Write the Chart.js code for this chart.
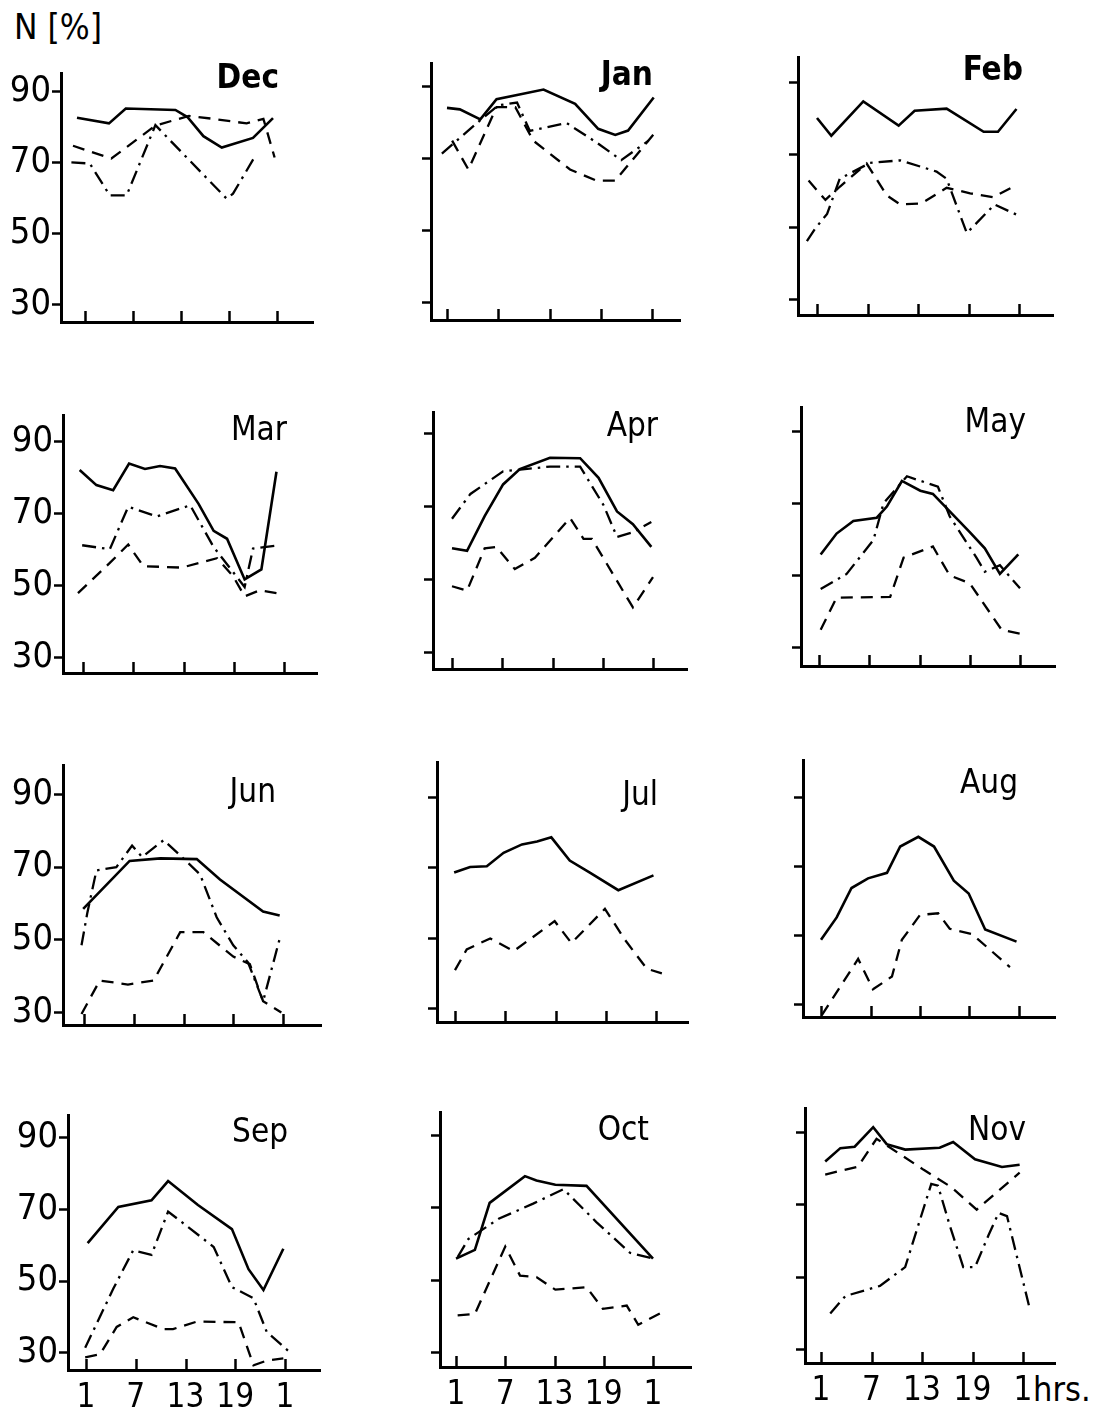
<!DOCTYPE html>
<html>
<head>
<meta charset="utf-8">
<script src="https://cdn.jsdelivr.net/npm/chart.js@4.4.1/dist/chart.umd.min.js"></script>
<style>
  html, body { margin: 0; padding: 0; background: #fff; }
  body { width: 1095px; height: 1417px; position: relative; overflow: hidden;
         font-family: "DejaVu Sans Condensed", "Liberation Sans Narrow", "DejaVu Sans", sans-serif; }
  canvas { position: absolute; }
  .lbl { position: absolute; color: #000; font-size: 34px; line-height: 1; white-space: nowrap; }
</style>
</head>
<body>
<div class="lbl" style="left:14px; top:10px; font-size:35px;">N [%]</div>
<div class="lbl" style="left:1033px; top:1372px;">hrs.</div>
<script>
// ---------- axis ticks ----------
const hourTicks = [1, 7, 13, 19, 25];
const hourLabels = ['1', '7', '13', '19', '1'];
const pctTicks = [30, 50, 70, 90];
const pctLabels = ['30', '50', '70', '90'];
const monthNames = ['Dec', 'Jan', 'Feb', 'Mar', 'Apr', 'May', 'Jun', 'Jul', 'Aug', 'Sep', 'Oct', 'Nov'];

// ---------- data: [hour, N %] ----------
const decSolid = [[0.0,82.7],[4.0,81.1],[6.1,85.3],[12.3,84.9],[13.8,82.9],[15.8,77.5],[18.1,74.3],[22.0,77.0],[24.5,82.6]];
const decDash = [[-0.5,74.8],[4.3,71.2],[9.8,80.5],[14.0,83.2],[17.0,82.4],[21.2,81.1],[23.3,82.4],[24.7,71.5]];
const decDashDot = [[-0.7,70.1],[1.6,69.8],[4.1,60.8],[6.2,60.8],[9.8,80.6],[18.7,59.9],[19.5,61.3],[22.3,72.0]];

const janSolid = [[1.0,84.1],[2.5,83.7],[4.9,80.9],[6.8,86.5],[9.2,87.7],[12.3,89.2],[16.0,85.2],[18.7,78.3],[20.7,76.6],[22.2,77.8],[25.2,87.0]];
const janDash = [[1.6,75.0],[3.5,67.0],[6.8,84.3],[9.0,84.3],[11.1,75.0],[15.4,67.0],[18.5,63.9],[20.7,63.9],[25.2,76.8]];
const janDashDot = [[0.4,71.4],[4.9,80.7],[7.0,84.8],[9.2,85.6],[10.7,77.7],[15.0,79.9],[18.5,74.5],[21.4,69.6],[24.6,75.0]];

const febSolid = [[1.0,80.2],[2.7,75.3],[6.5,84.8],[10.7,78.1],[12.6,82.2],[16.4,82.8],[20.8,76.4],[22.5,76.4],[24.7,82.7]];
const febDash = [[0.0,62.9],[1.8,58.1],[2.0,57.6],[3.7,61.2],[6.9,67.6],[9.3,58.8],[10.9,56.3],[13.4,56.6],[16.4,60.9],[19.2,59.4],[21.9,58.3],[24.3,61.2]];
const febDashDot = [[-0.2,46.2],[0.8,49.7],[2.2,53.7],[3.7,63.4],[7.3,67.8],[10.9,68.5],[15.2,65.4],[16.4,63.4],[18.8,48.4],[22.1,56.3],[24.7,53.5]];

const marSolid = [[0.6,82.1],[2.6,77.9],[4.6,76.5],[6.5,83.9],[8.4,82.4],[10.2,83.2],[12.0,82.5],[14.8,72.7],[16.6,65.2],[18.2,63.0],[20.3,51.7],[22.3,54.5],[24.1,81.6]];
const marDash = [[0.4,47.9],[4.2,56.3],[6.4,61.4],[8.2,55.4],[12.8,55.0],[17.0,57.6],[18.9,52.7],[20.3,47.0],[22.1,48.7],[24.1,47.9]];
const marDashDot = [[0.9,61.2],[4.2,60.1],[6.4,71.9],[9.8,69.2],[13.8,72.3],[16.6,60.7],[20.3,49.6],[21.3,60.3],[24.5,61.2]];

const aprSolid = [[1.0,58.6],[2.8,57.9],[4.9,67.4],[7.1,76.1],[9.1,80.3],[12.7,83.4],[16.3,83.3],[18.5,77.9],[20.7,68.7],[22.6,65.2],[24.8,59.0]];
const aprDash = [[1.0,48.2],[2.8,47.0],[4.9,58.6],[6.3,59.0],[8.5,52.9],[10.9,56.0],[15.1,66.9],[16.7,61.2],[17.7,61.2],[22.6,42.4],[25.0,50.7]];
const aprDashDot = [[1.0,66.7],[3.2,73.5],[7.1,79.7],[12.7,81.0],[16.3,81.0],[19.1,70.4],[20.7,61.7],[22.6,63.0],[24.8,65.8]];

const maySolid = [[1.2,55.9],[3.1,61.7],[5.1,65.2],[7.9,66.1],[9.1,69.2],[10.9,76.3],[13.1,73.6],[14.6,72.7],[19.0,62.1],[20.8,57.6],[22.6,50.5],[24.8,55.9]];
const mayDash = [[1.2,35.0],[3.1,43.9],[9.5,44.1],[11.1,55.0],[14.6,58.1],[16.6,50.1],[19.0,47.9],[22.8,35.0],[25.4,33.7]];
const mayDashDot = [[1.2,46.3],[4.3,50.5],[7.5,59.9],[8.7,70.1],[11.5,77.6],[15.2,74.7],[16.6,66.5],[19.8,55.0],[20.8,51.1],[22.6,52.9],[25.0,46.5]];

const junSolid = [[0.9,58.5],[6.5,71.7],[10.2,72.4],[14.6,72.2],[17.4,66.6],[22.6,57.8],[24.6,56.7]];
const junDash = [[0.7,29.6],[2.9,38.8],[6.3,37.7],[9.4,38.8],[12.6,52.1],[15.4,52.1],[19.0,45.4],[21.0,43.3],[22.6,33.1],[24.8,30.0]];
const junDashDot = [[0.7,48.5],[1.4,57.4],[2.5,69.1],[4.9,70.0],[6.8,75.9],[8.0,72.8],[10.6,77.4],[12.8,72.8],[15.0,68.0],[17.0,56.2],[19.0,48.5],[20.8,43.7],[22.6,33.1],[24.6,50.3]];

const julSolid = [[0.9,68.6],[2.8,70.2],[4.8,70.4],[6.8,74.2],[9.0,76.6],[10.8,77.4],[12.5,78.6],[14.7,72.0],[17.1,68.6],[20.5,63.6],[24.7,67.8]];
const julDash = [[1.0,40.9],[2.4,46.8],[5.2,49.9],[8.0,46.3],[12.9,54.8],[14.9,48.6],[18.9,58.3],[21.3,49.5],[23.9,41.3],[25.7,40.0]];

const augSolid = [[1.0,48.7],[2.9,55.2],[4.7,63.7],[6.7,66.5],[9.0,68.1],[10.6,75.7],[12.8,78.5],[14.7,75.7],[17.1,65.8],[18.9,62.1],[20.9,51.7],[24.7,48.2]];
const augDash = [[1.1,26.9],[5.5,43.2],[7.3,34.4],[9.6,38.1],[10.8,48.7],[13.0,55.9],[15.2,56.4],[16.6,51.9],[19.3,50.4],[23.9,40.8]];

const sepSolid = [[1.2,60.6],[4.9,70.7],[8.9,72.5],[10.9,77.9],[14.5,71.2],[18.6,64.5],[20.6,53.3],[22.4,47.5],[24.8,59.0]];
const sepDash = [[0.9,28.7],[2.7,29.6],[4.7,37.2],[6.7,39.9],[10.3,36.6],[11.5,36.6],[14.4,38.7],[19.4,38.5],[21.2,26.5],[22.8,27.8],[24.8,28.4]];
const sepDashDot = [[0.9,31.4],[4.3,47.9],[6.7,58.6],[8.9,57.3],[10.9,69.4],[16.4,59.5],[18.6,48.3],[21.2,45.2],[22.8,35.8],[25.4,30.5]];

const octSolid = [[1.0,56.0],[3.3,58.4],[5.1,71.4],[9.4,78.8],[10.8,77.6],[13.1,76.4],[16.9,76.1],[25.0,56.0]];
const octDash = [[1.2,40.3],[3.3,40.7],[7.0,59.3],[8.8,51.3],[10.8,50.9],[13.1,47.4],[16.9,48.1],[18.9,42.1],[21.8,43.0],[23.2,37.7],[26.0,41.0]];
const octDashDot = [[1.2,56.4],[2.5,61.4],[6.2,67.0],[10.4,71.2],[14.1,75.2],[18.1,66.1],[22.2,57.6],[25.0,56.0]];

const novSolid = [[1.5,82.0],[3.3,85.7],[5.0,86.1],[7.2,91.5],[8.8,86.8],[11.0,85.3],[15.1,85.8],[16.7,87.4],[19.3,82.6],[22.5,80.5],[24.6,81.1]];
const novDash = [[1.5,78.4],[5.4,80.6],[7.6,88.3],[13.2,79.7],[16.5,74.9],[19.5,68.7],[24.6,78.9]];
const novDashDot = [[2.1,40.0],[3.9,44.8],[8.0,47.6],[11.0,52.8],[12.6,64.7],[14.1,75.8],[14.9,75.3],[16.3,64.3],[17.9,52.8],[19.3,52.8],[20.9,61.6],[22.1,67.8],[23.1,66.9],[25.8,41.3]];

const solidSeries = [decSolid, janSolid, febSolid, marSolid, aprSolid, maySolid, junSolid, julSolid, augSolid, sepSolid, octSolid, novSolid];
const dashSeries = [decDash, janDash, febDash, marDash, aprDash, mayDash, junDash, julDash, augDash, sepDash, octDash, novDash];
const dashDotSeries = [decDashDot, janDashDot, febDashDot, marDashDot, aprDashDot, mayDashDot, junDashDot, null, null, sepDashDot, octDashDot, novDashDot];

// ---------- layout (pixel geometry of each panel) ----------
// L,R,T,B: plot frame; t1,t25: pixel of hour 1 and hour 25; y90,y30: pixel of 90 % and 30 %; tx,ty: title right/baseline
const panelLayout = [
  {L:61,  R:313,  T:63,   B:322,  t1:85,  t25:277,  y90:82,   y30:304,  tx:279,  ty:88,   bold:true,  col:0, row:0},
  {L:431, R:680,  T:53,   B:320,  t1:447, t25:652,  y90:77,   y30:302,  tx:653,  ty:85,   bold:true,  col:1, row:0},
  {L:798, R:1053, T:47,   B:315,  t1:817, t25:1019, y90:73,   y30:299,  tx:1023, ty:80,   bold:true,  col:2, row:0},
  {L:63,  R:317,  T:405,  B:673,  t1:83,  t25:284,  y90:432,  y30:657,  tx:287,  ty:440,  bold:false, col:0, row:1},
  {L:433, R:687,  T:402,  B:669,  t1:452, t25:653,  y90:424,  y30:652,  tx:658,  ty:436,  bold:false, col:1, row:1},
  {L:801, R:1055, T:397,  B:666,  t1:819, t25:1020, y90:422,  y30:647,  tx:1026, ty:432,  bold:false, col:2, row:1},
  {L:63,  R:321,  T:755,  B:1025, t1:84,  t25:283,  y90:785,  y30:1012, tx:276,  ty:802,  bold:false, col:0, row:2},
  {L:437, R:688,  T:752,  B:1022, t1:455, t25:656,  y90:788,  y30:1008, tx:658,  ty:805,  bold:false, col:1, row:2},
  {L:803, R:1055, T:750,  B:1017, t1:821, t25:1019, y90:788,  y30:1004, tx:1018, ty:793,  bold:false, col:2, row:2},
  {L:68,  R:320,  T:1105, B:1370, t1:86,  t25:285,  y90:1128, y30:1352, tx:288,  ty:1142, bold:false, col:0, row:3},
  {L:440, R:691,  T:1102, B:1367, t1:456, t25:653,  y90:1126, y30:1352, tx:649,  ty:1140, bold:false, col:1, row:3},
  {L:805, R:1055, T:1098, B:1363, t1:821, t25:1023, y90:1123, y30:1349, tx:1026, ty:1140, bold:false, col:2, row:3}
];

const FONT = '"DejaVu Sans Condensed", "Liberation Sans Narrow", "DejaVu Sans", sans-serif';
const PADL = 62, PADT = 12, PADR = 14, PADB = 52;

const panelDecor = {
  id: 'panelDecor',
  afterDraw(chart, args, opts) {
    const {ctx, chartArea, scales} = chart;
    const x = scales.x;
    ctx.save();
    ctx.strokeStyle = '#000';
    ctx.lineWidth = 2.5;
    hourTicks.forEach(h => {
      const px = Math.round(x.getPixelForValue(h)) + 0.5;
      ctx.beginPath();
      ctx.moveTo(px, chartArea.bottom);
      ctx.lineTo(px, chartArea.bottom - 11);
      ctx.stroke();
    });
    ctx.fillStyle = '#000';
    ctx.font = (opts.bold ? 'bold ' : '') + '33px ' + FONT;
    ctx.textAlign = 'right';
    ctx.textBaseline = 'alphabetic';
    ctx.fillText(opts.title, opts.tx, opts.ty);
    ctx.restore();
  }
};

function toXY(arr) { return arr.map(p => ({x: p[0], y: p[1]})); }

panelLayout.forEach((g, i) => {
  const cv = document.createElement('canvas');
  const cl = g.L - PADL, ct = g.T - PADT;
  const cw = g.R - g.L + PADL + PADR, ch = g.B - g.T + PADT + PADB;
  cv.width = cw; cv.height = ch;
  cv.style.left = cl + 'px'; cv.style.top = ct + 'px';
  cv.style.width = cw + 'px'; cv.style.height = ch + 'px';
  document.body.appendChild(cv);

  const ppx = (g.t25 - g.t1) / 24;
  const xMin = 1 - (g.t1 - g.L) / ppx;
  const xMax = 25 + (g.R - g.t25) / ppx;
  const ppu = (g.y30 - g.y90) / 60;
  const yMin = 30 - (g.B - g.y30) / ppu;
  const yMax = 90 + (g.y90 - g.T) / ppu;

  const datasets = [{
    data: toXY(solidSeries[i]), borderColor: '#000', borderWidth: 2.6, borderDash: []
  }, {
    data: toXY(dashSeries[i]), borderColor: '#000', borderWidth: 2.3, borderDash: [12, 8]
  }];
  if (dashDotSeries[i]) {
    datasets.push({ data: toXY(dashDotSeries[i]), borderColor: '#000', borderWidth: 2.3, borderDash: [14, 6, 2.5, 6] });
  }
  datasets.forEach(d => { d.pointRadius = 0; d.tension = 0; d.fill = false; d.clip = false; d.borderJoinStyle = 'miter'; });

  const showY = g.col === 0;
  const showX = g.row === 3;

  new Chart(cv, {
    type: 'line',
    data: { datasets },
    plugins: [panelDecor],
    options: {
      responsive: false,
      animation: false,
      devicePixelRatio: 1,
      layout: { padding: { left: 0, top: PADT, right: PADR, bottom: 0 } },
      plugins: {
        legend: { display: false },
        tooltip: { enabled: false },
        panelDecor: { title: monthNames[i], bold: g.bold, tx: g.tx - cl, ty: g.ty - ct }
      },
      scales: {
        x: {
          type: 'linear', min: xMin, max: xMax,
          afterBuildTicks: s => { s.ticks = hourTicks.map(v => ({value: v})); },
          afterFit: s => { s.height = PADB; },
          grid: { display: true, drawOnChartArea: false, drawTicks: false },
          border: { display: true, color: '#000', width: 3 },
          ticks: {
            display: showX, autoSkip: false, maxRotation: 0, padding: 9,
            color: '#000', font: { family: FONT, size: 33 },
            callback: v => hourLabels[hourTicks.indexOf(v)]
          }
        },
        y: {
          type: 'linear', min: yMin, max: yMax,
          afterBuildTicks: s => { s.ticks = pctTicks.map(v => ({value: v})); },
          afterFit: s => { s.width = PADL; },
          grid: { display: true, drawOnChartArea: false, drawTicks: true, tickLength: 9, tickWidth: 2.5, tickColor: '#000' },
          border: { display: true, color: '#000', width: 3 },
          ticks: {
            autoSkip: false, padding: 1,
            color: '#000', font: { family: FONT, size: 36 },
            callback: v => showY ? pctLabels[pctTicks.indexOf(v)] : ''
          }
        }
      }
    }
  });
});
</script>
</body>
</html>
